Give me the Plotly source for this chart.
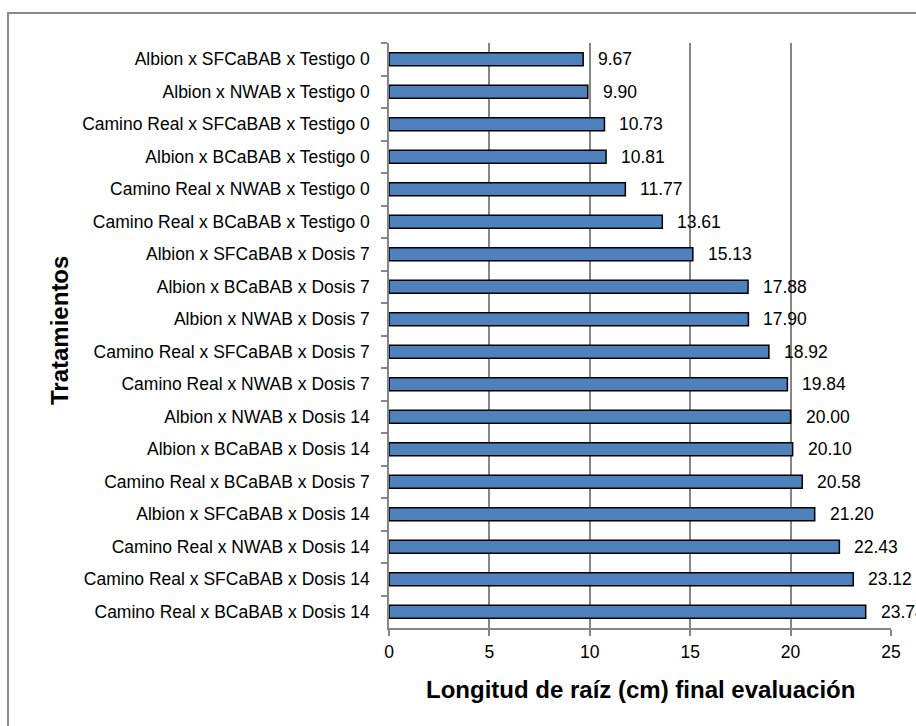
import plotly.graph_objects as go

categories = [
    "Albion x SFCaBAB x Testigo 0",
    "Albion x NWAB x Testigo 0",
    "Camino Real x SFCaBAB x Testigo 0",
    "Albion x BCaBAB x Testigo 0",
    "Camino Real x NWAB x Testigo 0",
    "Camino Real x BCaBAB x Testigo 0",
    "Albion x SFCaBAB x Dosis 7",
    "Albion x BCaBAB x Dosis 7",
    "Albion x NWAB x Dosis 7",
    "Camino Real x SFCaBAB x Dosis 7",
    "Camino Real x NWAB x Dosis 7",
    "Albion x NWAB x Dosis 14",
    "Albion x BCaBAB x Dosis 14",
    "Camino Real x BCaBAB x Dosis 7",
    "Albion x SFCaBAB x Dosis 14",
    "Camino Real x NWAB x Dosis 14",
    "Camino Real x SFCaBAB x Dosis 14",
    "Camino Real x BCaBAB x Dosis 14",
]
values = [9.67, 9.90, 10.73, 10.81, 11.77, 13.61, 15.13, 17.88, 17.90, 18.92,
          19.84, 20.00, 20.10, 20.58, 21.20, 22.43, 23.12, 23.74]
x_ticks = [0, 5, 10, 15, 20, 25]

FONT = "Liberation Sans, Arial, sans-serif"
GRAY = "#868686"

W, H = 916, 726
L, R, T, B = 389, 25, 43, 98
pw, ph = W - L - R, H - T - B

fig = go.Figure()
fig.add_trace(go.Bar(
    x=values, y=categories, orientation="h",
    marker=dict(color="#4F81BD", line=dict(color="black", width=1.5)),
    width=0.4, hoverinfo="x+y",
))

annotations = []
for c, v in zip(categories, values):
    annotations.append(dict(
        x=v, y=c, xref="x", yref="y", text=f"{v:.2f}", showarrow=False,
        xanchor="left", yanchor="middle", xshift=13,
        font=dict(family=FONT, size=17.5, color="black"),
    ))
# axis titles
annotations.append(dict(
    x=0.5, y=(H - 689 - B) / ph, xref="paper", yref="paper",
    text="<b>Longitud de raíz (cm) final evaluación</b>", showarrow=False,
    xanchor="center", yanchor="middle",
    font=dict(family=FONT, size=24, color="black"),
))
annotations.append(dict(
    x=(59 - L) / pw, y=(H - 331 - B) / ph, xref="paper", yref="paper",
    text="<b>Tratamientos</b>", showarrow=False, textangle=-90,
    xanchor="center", yanchor="middle",
    font=dict(family=FONT, size=24, color="black"),
))

fig.update_layout(
    width=W, height=H,
    margin=dict(l=L, r=R, t=T, b=B, pad=0),
    paper_bgcolor="white", plot_bgcolor="white",
    showlegend=False,
    font=dict(family=FONT, size=17.5, color="black"),
    annotations=annotations,
    shapes=[dict(
        type="rect", xref="paper", yref="paper",
        x0=(8 - L) / pw, x1=(940 - L) / pw,
        y0=(H - 760 - B) / ph, y1=(H - 13 - B) / ph,
        line=dict(color="#8a8a8a", width=2), fillcolor="rgba(0,0,0,0)",
        layer="below",
    )],
    xaxis=dict(
        range=[0, 25], tickvals=x_ticks, ticktext=[str(t) for t in x_ticks],
        showgrid=True, gridcolor=GRAY, gridwidth=1.5,
        showline=True, linecolor=GRAY, linewidth=1.5,
        ticks="outside", ticklen=6, tickcolor=GRAY, tickwidth=1.5,
        ticklabelstandoff=1, zeroline=False,
        tickfont=dict(family=FONT, size=17.5, color="black"),
    ),
    yaxis=dict(
        type="category", categoryorder="array", categoryarray=categories,
        autorange="reversed",
        showgrid=False, showline=True, linecolor=GRAY, linewidth=1.5,
        ticks="outside", tickson="boundaries", ticklen=6, tickcolor=GRAY,
        tickwidth=1.5, ticklabelstandoff=14,
        tickfont=dict(family=FONT, size=17.5, color="black"),
    ),
)

fig.write_html(
    "out.html",
    config={"displayModeBar": False},
    post_script="document.body.style.margin='0';document.body.style.overflow='hidden';",
)
